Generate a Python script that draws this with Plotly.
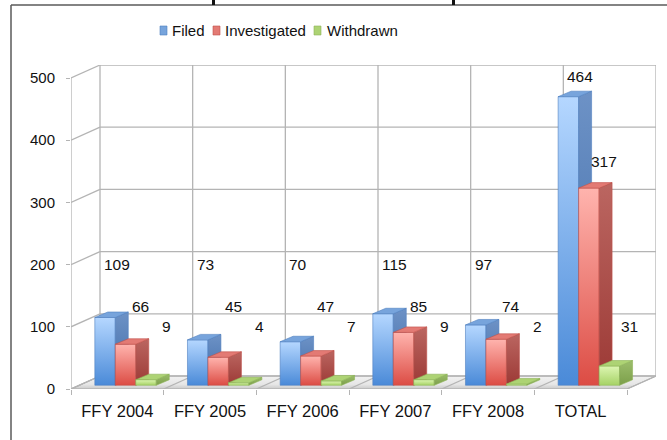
import plotly.graph_objects as go

# data
categories = ['FFY 2004', 'FFY 2005', 'FFY 2006', 'FFY 2007', 'FFY 2008', 'TOTAL']
filed = [109, 73, 70, 115, 97, 464]
investigated = [66, 45, 47, 85, 74, 317]
withdrawn = [9, 4, 7, 9, 2, 31]
y_ticks = [0, 100, 200, 300, 400, 500]

# pseudo-3d geometry (axis units)
WX, WY = 0.313, 20.9      # depth of back wall
BX, BY = 0.14, 8.8        # depth of a bar
BASE = 6                  # bars sit slightly behind floor front edge
BW = 0.221                # bar width
START = -0.243            # first bar left, relative to category centre
GRID = '#b4b4b4'
FONT = 'Liberation Sans, Arial, sans-serif'

# plot area in pixels, used to place the decorations in paper coords
L, R, T, B = 71, 11, 65, 51
PW, PH = 667 - L - R, 440 - T - B
px = lambda x: (x - L) / PW
py = lambda y: (440 - B - y) / PH

series = [
    dict(name='Filed', vals=filed,
         front=[[0, '#4a8ad8'], [1, '#b5d7ff']], side=[[0, '#3d6aa6'], [1, '#6d92c6']],
         top='#77a4dc', edge='#4f7fbf', pad=38, floor=200, dx=None, leg=(160, 170)),
    dict(name='Investigated', vals=investigated,
         front=[[0, '#dc4c44'], [1, '#ffb4ae']], side=[[0, '#9c3935'], [1, '#bb6661']],
         top='#e37a74', edge='#c0504a', pad=48, floor=133, dx=0.25, leg=(213, 223)),
    dict(name='Withdrawn', vals=withdrawn,
         front=[[0, '#a6d266'], [1, '#ddf6b2']], side=[[0, '#7c9f4a'], [1, '#9cbe6c']],
         top='#add374', edge='#8db458', pad=60, floor=100, dx=0.53, leg=(314, 325)),
]

n = len(categories)
x0, x1 = -0.5, n - 0.5
fig = go.Figure()

def line(xs, ys, color=GRID, width=1.3):
    fig.add_trace(go.Scatter(x=xs, y=ys, mode='lines', line=dict(color=color, width=width),
                             hoverinfo='skip', showlegend=False))

# floor
fig.add_trace(go.Scatter(x=[x0, x1, x1 + WX, x0 + WX, x0], y=[0, 0, WY, WY, 0],
                         fill='toself', mode='lines', line=dict(color='#a8a8a8', width=1),
                         fillgradient=dict(type='vertical', colorscale=[[0, '#c9c9c9'], [0.35, '#e6e6e6'], [1, '#f2f2f2']]),
                         hoverinfo='skip', showlegend=False))
for i in range(n + 1):
    line([x0 + i, x0 + i + WX], [0, WY])

# back wall and side gridlines
for v in y_ticks:
    line([x0 + WX, x1 + WX], [v + WY, v + WY])
    line([x0, x0 + WX], [v, v + WY])
for i in range(n + 1):
    line([x0 + WX + i, x0 + WX + i], [WY, y_ticks[-1] + WY])
line([x0, x0], [0, y_ticks[-1]])

# bars
annotations = []
for i in range(n):
    for k, s in enumerate(series):
        v = s['vals'][i]
        a = i + START + k * BW
        b = a + BW
        y0, y1 = BASE, BASE + v
        # front
        fig.add_trace(go.Scatter(x=[a, b, b, a, a], y=[y0, y0, y1, y1, y0], fill='toself', mode='lines',
                                 line=dict(color=s['edge'], width=0.6),
                                 fillgradient=dict(type='vertical', colorscale=s['front']),
                                 hoverinfo='skip', showlegend=False))
        # side
        fig.add_trace(go.Scatter(x=[b, b + BX, b + BX, b, b], y=[y0, y0 + BY, y1 + BY, y1, y0],
                                 fill='toself', mode='lines', line=dict(color=s['edge'], width=0.6),
                                 fillgradient=dict(type='vertical', colorscale=s['side']),
                                 hoverinfo='skip', showlegend=False))
        # top
        fig.add_trace(go.Scatter(x=[a, b, b + BX, a + BX, a], y=[y1, y1, y1 + BY, y1 + BY, y1],
                                 fill='toself', fillcolor=s['top'], mode='lines',
                                 line=dict(color=s['edge'], width=0.6),
                                 hoverinfo='skip', showlegend=False))
        ly = max(v + s['pad'], s['floor'])
        if s['dx'] is None:
            annotations.append(dict(x=i - 0.5 + WX + 0.02, y=ly, text=str(v), xanchor='left',
                                    yanchor='middle', showarrow=False,
                                    font=dict(size=15.5, family=FONT, color='#111111')))
        else:
            annotations.append(dict(x=i + s['dx'], y=ly, text=str(v), xanchor='center',
                                    yanchor='middle', showarrow=False,
                                    font=dict(size=15.5, family=FONT, color='#111111')))

# legend (drawn by hand to keep the tight keynote spacing)
shapes = []
for s in series:
    mx, tx = s['leg']
    shapes.append(dict(type='rect', xref='paper', yref='paper', x0=px(mx), x1=px(mx + 7),
                       y0=py(35), y1=py(26), fillcolor=s['top'],
                       line=dict(color=s['edge'], width=0.6)))
    annotations.append(dict(xref='paper', yref='paper', x=px(tx), y=py(31), text=s['name'],
                            xanchor='left', yanchor='middle', showarrow=False,
                            font=dict(size=15, family=FONT, color='#111111')))

# frame around the slide chart and the clipped title descenders
shapes += [
    dict(type='line', xref='paper', yref='paper', x0=px(11), x1=px(667), y0=py(5), y1=py(5),
         line=dict(color='#5a5a5a', width=1.5)),
    dict(type='line', xref='paper', yref='paper', x0=px(11), x1=px(11), y0=py(5), y1=py(440),
         line=dict(color='#5a5a5a', width=1.5)),
    dict(type='rect', xref='paper', yref='paper', x0=px(212), x1=px(215), y0=py(5), y1=py(0),
         fillcolor='#111111', line=dict(width=0)),
    dict(type='rect', xref='paper', yref='paper', x0=px(452), x1=px(455), y0=py(5), y1=py(0),
         fillcolor='#111111', line=dict(width=0)),
]

fig.update_layout(
    width=667, height=440,
    margin=dict(l=L, r=R, t=T, b=B),
    paper_bgcolor='white', plot_bgcolor='white',
    font=dict(family=FONT, size=15, color='#111111'),
    annotations=annotations,
    shapes=shapes,
    showlegend=False,
)
fig.update_xaxes(range=[x0, x1 + WX], tickmode='array', tickvals=list(range(n)), ticktext=categories,
                 ticks='', showgrid=False, zeroline=False, showline=False, automargin=False,
                 tickfont=dict(size=16.5, family=FONT, color='#111111'), ticklabelstandoff=10,
                 minor=dict(tickmode='array', tickvals=[x0 + i for i in range(n + 1)],
                            ticks='outside', ticklen=5, tickcolor=GRID, tickwidth=1.3, showgrid=False),
                 fixedrange=True)
fig.update_yaxes(range=[0, y_ticks[-1] + WY], tickmode='array', tickvals=y_ticks,
                 ticks='outside', ticklen=4, tickcolor=GRID, tickwidth=1.3,
                 showgrid=False, zeroline=False, showline=False, automargin=False,
                 tickfont=dict(size=15, family=FONT, color='#111111'), ticklabelstandoff=8,
                 fixedrange=True)

fig.write_html("out.html", config={'displayModeBar': False},
               post_script="document.body.style.margin='0px';")
